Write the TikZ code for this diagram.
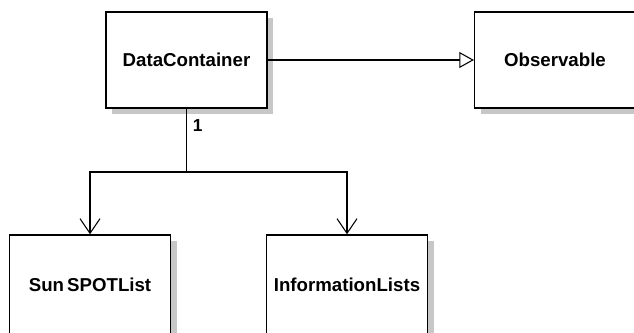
\documentclass[tikz,border=0pt]{standalone}
\usepackage{fontspec}
\setmainfont{Liberation Sans}
\usetikzlibrary{arrows.meta,shadows}

\begin{document}
\begin{tikzpicture}[x=7.5pt,y=7.5pt,
	classbox/.style={draw,line width=1.1pt,fill=white,inner sep=0pt,
		font=\fontsize{14}{16}\selectfont\bfseries,
		drop shadow={shadow xshift=4.5pt,shadow yshift=-4.5pt,fill=black!22,opacity=1}},
	topbox/.style={classbox,minimum width=120.5pt,minimum height=72pt},
	lowbox/.style={classbox,minimum width=121pt,minimum height=75pt},
	link/.style={line width=0.8pt},
	inherit/.style={link,-{Triangle[open,length=11pt,width=12pt]}},
	assoc/.style={link,-{Straight Barb[length=11pt,width=15pt]}},
	mult/.style={font=\fontsize{13}{15}\selectfont\bfseries,inner sep=0pt}]
	\useasboundingbox (0,0) rectangle (63.4,33.2);

	% classes
	\node[topbox] (data) at (18.65,27.2) {DataContainer};
	\node[topbox] (obs) at (55.5,27.2) {Observable};
	\node[lowbox] (sun) at (9.0,4.7) {Sun\,SPOTList};
	\node[lowbox] (info) at (34.7,4.7) {InformationLists};

	% generalisation
	\draw[inherit] (data.east) -- (obs.west);

	% associations
	\coordinate (split) at (18.65,16.0);
	\draw[link] (data.south) -- (split);
	\node[mult,anchor=north west] (one) at ([xshift=4.5pt,yshift=-8pt]data.south) {1};
	\draw[assoc] (split) -| (sun.north);
	\draw[assoc] (split) -| (info.north);
\end{tikzpicture}
\end{document}
